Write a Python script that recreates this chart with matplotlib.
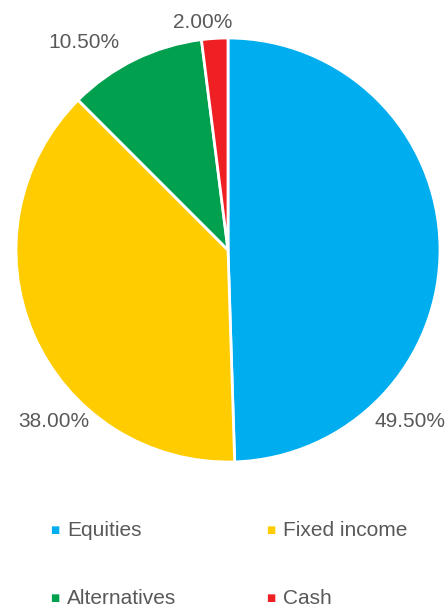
import matplotlib.pyplot as plt

plt.rcParams['font.family'] = ['Liberation Sans', 'DejaVu Sans']

labels = ["Equities", "Fixed income", "Alternatives", "Cash"]
shares = [49.5, 38.0, 10.5, 2.0]
colors = ["#00AEEF", "#FFCC00", "#00A04F", "#EE2024"]
# label anchor points (data coords, pie radius = 1)
label_pos = [(0.86, -0.81), (-0.82, -0.81), (-0.68, 0.98), (-0.12, 1.075)]

W, H = 446, 607
fig = plt.figure(figsize=(W / 100, H / 100), dpi=100)
ax = fig.add_axes([16 / W, (H - 462) / H, 424 / W, 424 / H])

ax.pie(shares, colors=colors, startangle=90, counterclock=False, radius=1,
       wedgeprops=dict(edgecolor="white", linewidth=2))
ax.set_xlim(-1, 1)
ax.set_ylim(-1, 1)
ax.set_aspect("equal")
ax.axis("off")

for v, (x, y) in zip(shares, label_pos):
    ax.text(x, y, f"{v:.2f}%", ha="center", va="center", fontsize=15,
            color="#595959", clip_on=False)

# legend, two columns
for i, (lab, c) in enumerate(zip(labels, colors)):
    col, row = i % 2, i // 2
    x0 = (55 + col * 216) / W
    y0 = 1 - (530 + row * 68) / H
    fig.text(x0, y0, "\u25A0", color=c, fontsize=7, ha="center", va="center",
             family="DejaVu Sans")
    fig.text(x0 + 12 / W, y0, lab, color="#595959", fontsize=15,
             ha="left", va="center")

fig.savefig("out.png", dpi=100)
